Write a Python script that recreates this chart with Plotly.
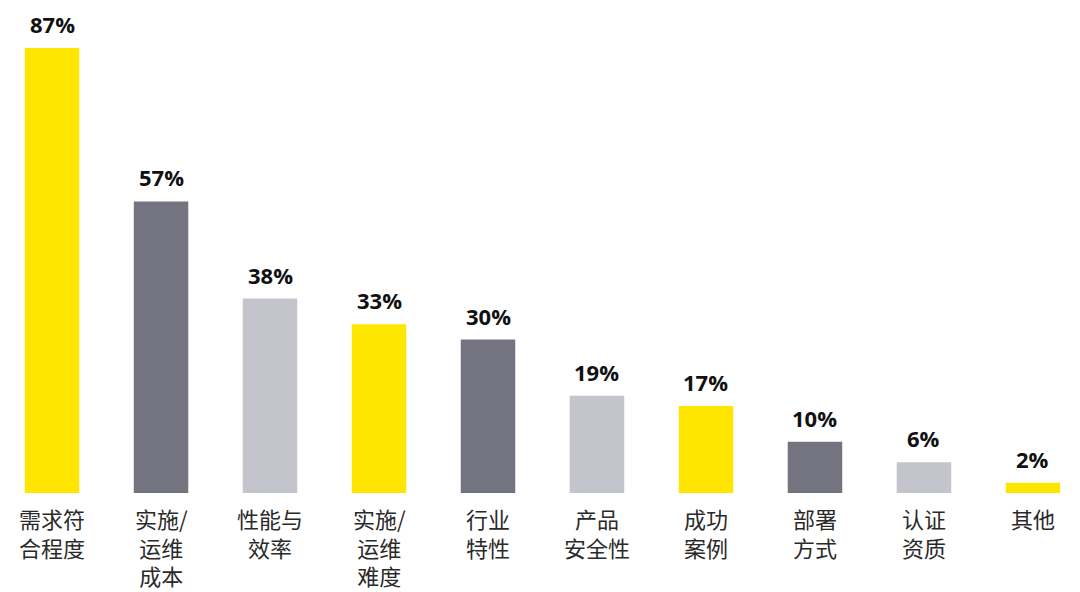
import plotly.graph_objects as go

categories = [
    "需求符<br>合程度",
    "实施/<br>运维<br>成本",
    "性能与<br>效率",
    "实施/<br>运维<br>难度",
    "行业<br>特性",
    "产品<br>安全性",
    "成功<br>案例",
    "部署<br>方式",
    "认证<br>资质",
    "其他",
]
values = [87, 57, 38, 33, 30, 19, 17, 10, 6, 2]
value_labels = ["87%", "57%", "38%", "33%", "30%", "19%", "17%", "10%", "6%", "2%"]

__PALETTE__ = ["#FFE600", "#747480", "#C4C4CD"]

positions = list(range(len(categories)))
bar_colors = [__PALETTE__[i % 3] for i in positions]

fig = go.Figure(
    go.Bar(
        x=positions,
        y=values,
        width=0.5,
        marker=dict(color=bar_colors, line_width=0),
        hoverinfo="skip",
    )
)

# percentage above each bar
for i, v in enumerate(values):
    fig.add_annotation(
        x=i,
        y=v,
        text="<b>%s</b>" % value_labels[i],
        showarrow=False,
        yanchor="bottom",
        yshift=7,
        font=dict(family="Open Sans, Noto Sans", size=22, color="#111111"),
    )

# category names under the bars
for i, name in enumerate(categories):
    fig.add_annotation(
        x=i,
        y=0,
        text=name,
        showarrow=False,
        yanchor="top",
        yshift=-7,
        align="center",
        font=dict(family="Noto Sans CJK SC", size=22, color="#2a2a2a"),
    )

# page body adds an 8px offset, ranges are set to compensate
fig.update_layout(
    width=1080,
    height=592,
    margin=dict(l=0, r=0, t=0, b=107),
    plot_bgcolor="white",
    paper_bgcolor="white",
    showlegend=False,
    xaxis=dict(
        range=[-0.404, 9.505],
        showticklabels=False,
        showgrid=False,
        zeroline=False,
        showline=False,
    ),
    yaxis=dict(
        range=[0, 94.8],
        visible=False,
        showgrid=False,
        zeroline=False,
    ),
)

fig.write_html("out.html")
